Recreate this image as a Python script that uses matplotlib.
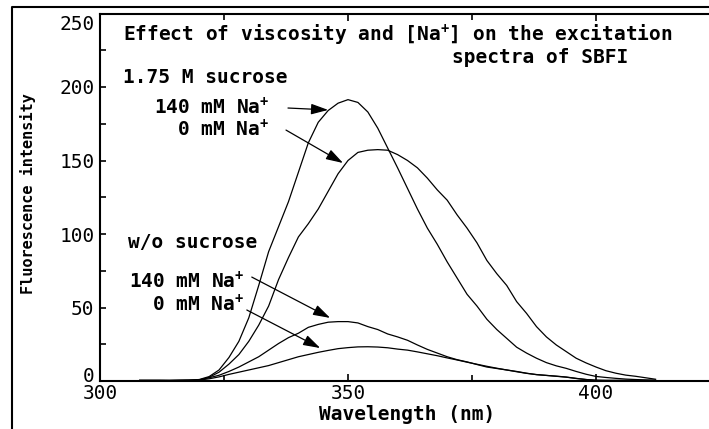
import matplotlib
matplotlib.use("Agg")
import matplotlib.pyplot as plt
from matplotlib.lines import Line2D
from matplotlib.ticker import MultipleLocator
import matplotlib.transforms as mtransforms

MONO = "DejaVu Sans Mono"
plt.rcParams["mathtext.fontset"] = "custom"
plt.rcParams["mathtext.rm"] = MONO + ":bold"
plt.rcParams["mathtext.it"] = MONO + ":bold"
plt.rcParams["mathtext.bf"] = MONO + ":bold"
plt.rcParams["mathtext.default"] = "rm"

# Excitation spectra of SBFI (fluorescence intensity vs. wavelength, nm)
wavelength = [308, 310, 312, 314, 316, 318, 320, 322, 324, 326, 328, 330, 332,
              334, 336, 338, 340, 342, 344, 346, 348, 350, 352, 354, 356, 358,
              360, 362, 364, 366, 368, 370, 372, 374, 376, 378, 380, 382, 384,
              386, 388, 390, 392, 394, 396, 398, 400, 402, 404, 406, 408, 410,
              412]

# 1.75 M sucrose, 140 mM Na+
sucrose_na140 = [0.5, 0.5, 0.5, 0.4, 0.5, 0.6, 1.0, 3.0, 7.5, 16, 27, 43, 65,
                 88, 105, 122, 142, 162, 176, 184, 189, 191.4, 189.5, 183, 172,
                 158.5, 145, 131, 117, 104, 93, 81, 70, 59, 51, 42, 35, 29, 23,
                 19, 15.5, 12.5, 10.3, 8.6, 6.5, 4.6, 3.1, 2.4, 1.8, 1.3, 1.0,
                 0.7, 0.5]

# 1.75 M sucrose, 0 mM Na+
sucrose_na0 = [0.4, 0.4, 0.4, 0.4, 0.5, 0.5, 0.6, 2.5, 6.0, 11.5, 18, 27, 38,
               51, 69, 84, 98, 107, 117, 129, 141, 150, 155.5, 157, 157.4, 157,
               154, 150, 145, 138, 130, 123, 113, 104, 94, 82, 73, 65, 54, 46,
               37, 30, 24.5, 20, 15.5, 12.3, 9.5, 7.0, 5.3, 4.0, 3.2, 2.2, 1.2]

# no sucrose, 140 mM Na+
water_na140 = [0.3, 0.3, 0.3, 0.3, 0.4, 0.5, 0.8, 2.2, 3.9, 6.5, 9.5, 13, 16.5,
               21, 25.5, 29.5, 32.5, 36.5, 38.5, 40, 40.4, 40.4, 39.5, 37, 35,
               32, 30, 27.7, 24.5, 21.5, 19, 16.5, 14.5, 13, 11.2, 9.5, 8.5,
               7.5, 6.5, 5.3, 4.3, 3.8, 3.3, 2.7, 1.8, 1.0, 0.5, 0.4, 0.4, 0.4,
               0.4, 0.4, 0.4]

# no sucrose, 0 mM Na+
water_na0 = [0.3, 0.3, 0.3, 0.3, 0.3, 0.4, 0.6, 1.5, 2.8, 4.5, 6.0, 7.5, 9.0,
             10.5, 12.5, 14.5, 16.5, 18, 19.5, 20.8, 22, 22.7, 23.2, 23.3, 23.1,
             22.6, 21.7, 21, 19.8, 18.5, 17.2, 15.7, 14.3, 12.8, 11.4, 10, 8.7,
             7.5, 6.3, 5.2, 4.4, 3.8, 3.2, 2.6, 1.7, 1.0, 0.5, 0.4, 0.4, 0.4,
             0.4, 0.4, 0.4]

x_ticks = [300, 350, 400]
y_ticks = [0, 50, 100, 150, 200, 250]

W, H = 709, 429

fig = plt.figure(figsize=(W / 100, H / 100), dpi=100)
fig.patch.set_facecolor("white")

# axes box in pixel units: left 100, bottom 381, top 13.5, runs past the right edge
left, bottom, top, right = 100, 381, 13.5, 716
ax = fig.add_axes([left / W, (H - bottom) / H, (right - left) / W, (bottom - top) / H])
ax.set_xlim(300, 300 + (right - left) / 4.96)
ax.set_ylim(0, 250)

for y in (sucrose_na140, sucrose_na0, water_na140, water_na0):
    ax.plot(wavelength, y, color="black", lw=0.9)

for s in ax.spines.values():
    s.set_linewidth(1.5)

ax.set_xticks(x_ticks)
ax.set_yticks(y_ticks)
ax.xaxis.set_minor_locator(MultipleLocator(25))
ax.yaxis.set_minor_locator(MultipleLocator(25))
ax.tick_params(axis="both", which="both", direction="in", width=1.2,
               top=True, right=False, labelsize=14)
ax.tick_params(axis="x", which="major", length=5, pad=2.5)
ax.tick_params(axis="x", which="minor", length=4)
ax.tick_params(axis="y", which="both", length=4, pad=4)
for lab in ax.get_xticklabels() + ax.get_yticklabels():
    lab.set_family(MONO)

# end labels on the value axis sit inside the axis range
ylabels = ax.get_yticklabels()
ylabels[0].set_transform(ylabels[0].get_transform() +
                         mtransforms.ScaledTranslation(0, 0.07, fig.dpi_scale_trans))
ylabels[-1].set_transform(ylabels[-1].get_transform() +
                          mtransforms.ScaledTranslation(0, -0.09, fig.dpi_scale_trans))

txt = dict(family=MONO, fontweight="bold", fontsize=14, color="black")
NA = "Na$^{+}$"
ax.text(304.6, 235.4, "Effect of viscosity and [" + NA + "] on the excitation",
        ha="left", va="center", **txt)
ax.text(370.9, 220.4, "spectra of SBFI", ha="left", va="center", **txt)
ax.text(304.6, 206.8, "1.75 M sucrose", ha="left", va="center", **txt)
ax.text(334.1, 185.7, "140 mM " + NA, ha="right", va="center", **txt)
ax.text(334.1, 170.7, "0 mM " + NA, ha="right", va="center", **txt)
ax.text(305.7, 93.9, "w/o sucrose", ha="left", va="center", **txt)
ax.text(329.1, 67.3, "140 mM " + NA, ha="right", va="center", **txt)
ax.text(329.1, 51.7, "0 mM " + NA, ha="right", va="center", **txt)

arrow = dict(arrowstyle="-|>,head_length=0.8,head_width=0.25", color="black",
             lw=0.9, mutation_scale=13, shrinkA=0, shrinkB=0)
ax.annotate("", xy=(346.0, 184.4), xytext=(337.9, 185.7), arrowprops=arrow)
ax.annotate("", xy=(349.0, 148.3), xytext=(337.5, 170.7), arrowprops=arrow)
ax.annotate("", xy=(346.4, 42.9), xytext=(330.6, 70.7), arrowprops=arrow)
ax.annotate("", xy=(344.4, 22.4), xytext=(329.6, 48.3), arrowprops=arrow)

fig.text(407.5 / W, 1 - 414 / H, "Wavelength (nm)", ha="center", va="center", **txt)
fig.text(28 / W, 1 - 194 / H, "Fluorescence intensity", rotation=90, ha="center",
         va="center", family=MONO, fontweight="bold", fontsize=11)

# outer frame (left and top edges)
fig.add_artist(Line2D([12 / W, 12 / W, 1.0], [0.0, 1 - 7 / H, 1 - 7 / H],
                      transform=fig.transFigure, color="black", lw=1.5))

fig.savefig("out.png", dpi=100)
